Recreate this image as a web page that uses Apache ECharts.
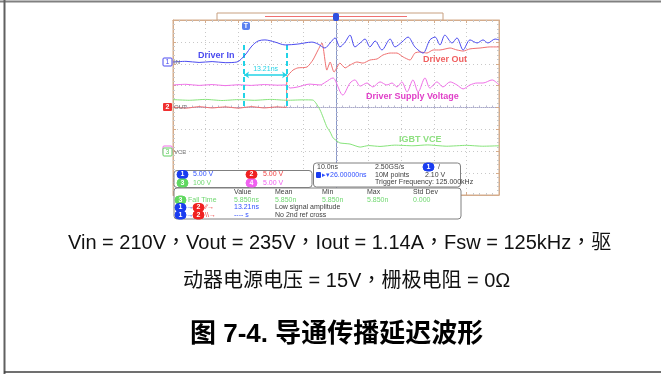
<!DOCTYPE html>
<html>
<head>
<meta charset="utf-8">
<script src="https://cdn.jsdelivr.net/npm/echarts@6/dist/echarts.min.js"></script>
<style>
  html, body { margin: 0; padding: 0; background: #fff; }
  #scope-chart { width: 661px; height: 374px; }
</style>
</head>
<body>
<div id="scope-chart"></div>
<script>
// time in ns relative to screen centre, value in divisions from centre line
const ch1Trace = [
  [-50, 2.08], [-46, 2.11], [-42, 2.06], [-38, 2.10], [-34, 2.05], [-30.4, 2.08],
  [-27.9, 2.40], [-25.8, 2.81], [-23.9, 3.04], [-21.8, 3.09], [-18.7, 2.99], [-15.6, 2.86],
  [-11.7, 2.90], [-7.4, 2.99], [-5.5, 2.90], [-3.4, 2.72], [-1.8, 2.95], [-0.3, 3.18],
  [1.2, 2.77], [2.8, 2.99], [4.3, 3.31], [5.8, 2.77], [7.4, 2.95], [8.9, 3.13],
  [10.4, 2.77], [12.0, 3.04], [14.1, 2.63], [16.6, 3.13], [18.1, 2.77], [20.2, 2.99],
  [22.1, 3.22], [24.2, 2.77], [26.7, 2.49], [28.8, 3.09], [30.4, 3.22], [31.9, 2.86],
  [33.4, 3.31], [35.6, 2.95], [37.1, 3.18], [39.0, 2.63], [41.1, 3.09], [43.3, 2.95],
  [45.1, 3.09], [46.6, 2.95], [48.8, 3.13], [50, 3.09]
]
const ch2Trace = [
  [-50, 0.02], [-46, -0.03], [-42, 0.04], [-38, -0.02], [-34, 0.03], [-30, -0.03],
  [-26, 0.04], [-22, -0.02], [-18, 0.03], [-15.3, 0.0],
  [-15.0, 1.39], [-13.2, 1.71], [-11.7, 1.81], [-8.9, 1.85], [-7.1, 2.17], [-5.5, 2.63],
  [-4.3, 2.95], [-2.8, 1.71], [-1.8, 2.08], [-0.6, 1.62], [1.2, 2.03], [2.8, 1.81],
  [4.3, 1.94], [6.4, 2.08], [8.3, 2.03], [10.4, 2.17], [12.6, 2.22], [14.4, 2.40],
  [16.6, 2.49], [18.7, 2.49], [20.6, 2.31], [22.7, 2.17], [24.2, 2.49], [25.8, 2.54],
  [27.9, 2.49], [29.8, 2.63], [31.9, 2.63], [35.0, 2.72], [37.1, 2.63], [39.0, 2.58],
  [41.1, 2.68], [44.2, 2.72], [47.2, 2.77], [50, 2.77]
]
const ch3Trace = [
  [-50, 0.36], [-45, 0.33], [-40, 0.37], [-35, 0.32], [-30, 0.36], [-25, 0.33],
  [-20, 0.37], [-15, 0.33], [-10, 0.35], [-7.1, 0.34],
  [-4.9, -0.11], [-2.8, -0.89], [-1.8, -1.12], [-0.9, -1.39], [0.3, -1.53], [1.2, -1.62],
  [4.3, -1.67], [7.4, -1.81], [10.0, -1.74], [13.5, -1.78], [18.0, -1.72], [23.6, -1.75],
  [28.0, -1.71], [34.0, -1.77], [40.0, -1.73], [45.0, -1.77], [50, -1.75]
]
const ch4Trace = [
  [-50, 1.03], [-46, 1.06], [-42, 1.01], [-38, 1.05], [-34, 1.00], [-30, 1.04],
  [-26, 1.01], [-22, 1.05], [-18, 1.02], [-15.3, 1.03],
  [-14.1, 0.89], [-11.7, 0.94], [-8.0, 1.07], [-4.9, 1.03], [-3.1, 1.17], [-0.9, 1.35],
  [-0.3, 1.26], [2.1, 0.57], [4.3, 1.12], [5.8, 1.26], [7.4, 0.98], [9.5, 1.12],
  [11.3, 0.94], [13.5, 1.17], [15.6, 1.03], [17.2, 1.12], [18.7, 0.94], [20.2, 1.17],
  [21.8, 0.71], [23.6, 1.26], [25.2, 0.71], [27.3, 1.35], [28.8, 0.89], [31.0, 1.17],
  [32.8, 0.94], [35.0, 1.17], [37.1, 1.03], [39.0, 0.85], [41.1, 1.03], [43.3, 1.12],
  [45.1, 1.12], [47.9, 1.26], [50, 1.03]
]
// cursor positions (ns) and the span they mark (divisions)
const cursorTimes = [-28.2, -15.0]
const cursorSpan = [2.86, 0]
const cursorArrowLevel = 1.49
const cursorText = '13.21ns'

const traceNames = ['Driver In', 'Driver Out', 'IGBT VCE', 'Driver Supply Voltage']
const measHeaders = ['Value', 'Mean', 'Min', 'Max', 'Std Dev']
const measFall = ['5.850ns', '5.850n', '5.850n', '5.850n', '0.000']
const measDelay = ['13.21ns', 'Low signal amplitude']
const measDelay2 = ['---- s', 'No 2nd ref cross']
const chScales = ['5.00 V', '5.00 V', '100 V', '5.00 V']
const timebase = ['10.0ns', '2.50GS/s', '10M points', '2.10 V', 'Trigger Frequency: 125.000kHz', '26.00000ns']
const captionLines = [
  'Vin = 210V，Vout = 235V，Iout = 1.14A，Fsw = 125kHz，驱',
  '动器电源电压 = 15V，栅极电阻 = 0Ω'
]
const figureTitle = '图 7-4. 导通传播延迟波形'

const colors = { c1: '#4b4bf0', c2: '#f07070', c3: '#86e47a', c4: '#f070e8', cursor: '#22d3e6' }
const frameColor = '#d4ac8c'
const captionFont = '"Liberation Sans", Arial, "Noto Sans CJK TC", sans-serif'

const chart = echarts.init(document.getElementById('scope-chart'))

const txt = (x, y, s, fill, size, extra) => ({
  type: 'text', x: x, y: y, z: 22,
  style: Object.assign({ text: s, fill: fill, font: (size || 7) + 'px "Liberation Sans", Arial, sans-serif', textVerticalAlign: 'middle' }, (extra || {}))
})
const badge = (x, y, n, fill, outline) => [
  { type: 'rect', z: 21, shape: { x: x, y: y - 4, width: 11, height: 8, r: 4 }, style: { fill: outline ? '#fff' : fill, stroke: fill, lineWidth: 1 } },
  { type: 'text', z: 22, x: x + 5.5, y: y, style: { text: n, fill: outline ? fill : '#fff', font: 'bold 7px "Liberation Sans", Arial', textAlign: 'center', textVerticalAlign: 'middle' } }
]

const graphics = [
  // page frame
  { type: 'line', shape: { x1: 0, y1: 1.5, x2: 661, y2: 1.5 }, style: { stroke: '#808080', lineWidth: 2 } },
  { type: 'line', shape: { x1: 4.5, y1: 0, x2: 4.5, y2: 374 }, style: { stroke: '#606060', lineWidth: 2 } },
  { type: 'line', shape: { x1: 4, y1: 372, x2: 661, y2: 372 }, style: { stroke: '#404040', lineWidth: 1.5 } },
  // record bar above the screen
  { type: 'rect', shape: { x: 217, y: 13, width: 226, height: 7 }, style: { fill: '#fff', stroke: '#c8a080', lineWidth: 1 } },
  { type: 'line', shape: { x1: 265, y1: 16.5, x2: 407, y2: 16.5 }, style: { stroke: '#f07070', lineWidth: 1 } },
  { type: 'rect', z: 10, shape: { x: 333, y: 13, width: 6, height: 8, r: 2 }, style: { fill: '#3050e0' } },
  // trigger marker
  { type: 'rect', z: 10, shape: { x: 242, y: 22, width: 8, height: 8, r: 2 }, style: { fill: '#5a80f0' } },
  txt(246, 26, 'T', '#fff', 7, { textAlign: 'center', font: 'bold 7px "Liberation Sans"' }),
  // channel ground markers
  { type: 'rect', z: 10, shape: { x: 163, y: 58, width: 9, height: 8, r: 1 }, style: { fill: '#fff', stroke: '#4b4bf0' } },
  txt(167.5, 62, '1', '#4b4bf0', 7, { textAlign: 'center' }),
  txt(174, 62, 'IN', '#707070', 6),
  { type: 'rect', z: 10, shape: { x: 163, y: 103, width: 9, height: 8, r: 1 }, style: { fill: '#f03030' } },
  txt(167.5, 107, '2', '#fff', 7, { textAlign: 'center', font: 'bold 7px "Liberation Sans"' }),
  txt(174, 107, 'OUT', '#707070', 6),
  { type: 'rect', z: 10, shape: { x: 163, y: 146, width: 9, height: 8, r: 1 }, style: { fill: '#fff', stroke: '#f070e8' } },
  { type: 'rect', z: 11, shape: { x: 163, y: 148, width: 9, height: 8, r: 1 }, style: { fill: '#fff', stroke: '#60d060' } },
  txt(167.5, 152, '3', '#60d060', 7, { textAlign: 'center' }),
  txt(174, 152, 'VCE', '#707070', 6),
  // trace labels
  txt(198, 56, traceNames[0], colors.c1, 9, { font: 'bold 9px "Liberation Sans", Arial' }),
  txt(423, 60, traceNames[1], '#f06060', 9, { font: 'bold 9px "Liberation Sans", Arial' }),
  txt(366, 97, traceNames[3], '#e040c8', 9, { font: 'bold 9px "Liberation Sans", Arial' }),
  txt(399, 140, traceNames[2], '#8ee080', 9, { font: 'bold 9px "Liberation Sans", Arial' }),
  // channel scale panel
  { type: 'rect', z: 19, shape: { x: 174, y: 170.5, width: 138, height: 17, r: 3 }, style: { fill: '#fff', stroke: '#808080' } },
  ...badge(177, 174.5, '1', '#1a3cf0'), txt(193, 174.5, chScales[0], '#3050ff'),
  ...badge(246, 174.5, '2', '#f02020'), txt(263, 174.5, chScales[1], '#f04040'),
  ...badge(177, 183, '3', '#60d860'), txt(193, 183, chScales[2], '#70d870'),
  ...badge(246, 183, '4', '#f060f0'), txt(263, 183, chScales[3], '#f060f0'),
  // timebase panel
  { type: 'rect', z: 19, shape: { x: 313.5, y: 163, width: 147, height: 24, r: 3 }, style: { fill: '#fff', stroke: '#808080' } },
  txt(317, 167, timebase[0], '#404040'), txt(375, 167, timebase[1], '#404040'),
  ...badge(423, 167, '1', '#1a3cf0'), txt(438, 167, '/', '#404040'),
  { type: 'rect', z: 21, shape: { x: 316, y: 172, width: 5, height: 6, r: 1 }, style: { fill: '#1a3cf0' } },
  txt(322, 175, '\u25b8\u25be' + timebase[5], '#3050ff'),
  txt(375, 175, timebase[2], '#404040'), txt(425, 175, timebase[3], '#404040'),
  txt(375, 182.5, timebase[4], '#404040'),
  // measurement panel
  { type: 'rect', z: 19, shape: { x: 174, y: 188, width: 287, height: 31, r: 3 }, style: { fill: '#fff', stroke: '#808080' } },
  ...badge(175, 200, '3', '#60d860'), txt(188, 200, 'Fall Time', '#70d870'),
  ...badge(175, 207.5, '1', '#1a3cf0'), txt(186.5, 207.5, '\u2192', '#1a3cf0'), ...badge(193, 207.5, '2', '#f02020'), txt(205, 207.5, '\u2215\u2215\u2192', '#f04040'),
  ...badge(175, 215, '1', '#1a3cf0'), txt(186.5, 215, '\u2192', '#1a3cf0'), ...badge(193, 215, '2', '#f02020'), txt(205, 215, '\\\\\u2192', '#f04040'),
  txt(234, 215, measDelay2[0], '#3050ff'), txt(275, 215, measDelay2[1], '#404040'),
  txt(234, 207.5, measDelay[0], '#3050ff'), txt(275, 207.5, measDelay[1], '#404040'),
  // caption
  txt(68, 243, captionLines[0], '#111', 20, { font: '20px ' + captionFont }),
  txt(183, 281, captionLines[1], '#111', 20, { font: '20px ' + captionFont }),
  txt(190, 335, figureTitle, '#000', 26, { font: 'bold 26px "Liberation Sans", Arial, "Noto Sans CJK SC", sans-serif' })
]
const measX = [234, 275, 322, 367, 413]
measHeaders.forEach((h, i) => graphics.push(txt(measX[i], 192, h, '#404040')))
measFall.forEach((v, i) => graphics.push(txt(measX[i], 200, v, '#70d870')))

const axisHidden = { axisLabel: { show: false }, splitLine: { show: false } }
const edgeAxis = (extra) => Object.assign({
  type: 'value', axisLine: { onZero: false, lineStyle: { color: frameColor } },
  axisTick: { show: true, inside: true, length: 3, lineStyle: { color: frameColor } },
  minorTick: { show: true, splitNumber: 5, length: 2, lineStyle: { color: '#c8c8c8' } }
}, axisHidden, extra)

const option = {
  animation: false,
  grid: { left: 173, top: 20, width: 326, height: 175, show: true, borderColor: frameColor, borderWidth: 1, backgroundColor: '#fff' },
  xAxis: [
    {
      type: 'value', min: -50, max: 50, interval: 10,
      axisLine: { onZero: true, lineStyle: { color: '#a8a8c8', type: 'dotted' } },
      axisTick: { show: true, inside: true, length: 2, lineStyle: { color: '#a8a8c8' } },
      minorTick: { show: true, splitNumber: 5, length: 2, lineStyle: { color: '#b8b8d0' } },
      axisLabel: { show: false },
      splitLine: { show: true, lineStyle: { color: '#c8c8c8', type: [1, 3] } }
    },
    edgeAxis({ min: -50, max: 50, interval: 10, position: 'bottom' }),
    edgeAxis({ min: -50, max: 50, interval: 10, position: 'top' })
  ],
  yAxis: [
    {
      type: 'value', min: -4, max: 4, interval: 1,
      axisLine: { onZero: true, lineStyle: { color: '#8898c8', width: 1 } },
      axisTick: { show: true, inside: true, length: 2, lineStyle: { color: '#a8a8c8' } },
      minorTick: { show: true, splitNumber: 5, length: 2, lineStyle: { color: '#b8b8d0' } },
      axisLabel: { show: false },
      splitLine: { show: true, lineStyle: { color: '#c8c8c8', type: [1, 3] } }
    },
    edgeAxis({ min: -4, max: 4, interval: 1, position: 'left' }),
    edgeAxis({ min: -4, max: 4, interval: 1, position: 'right' })
  ],
  series: [
    { name: traceNames[2], type: 'line', data: ch3Trace, showSymbol: false, smooth: 0.2, lineStyle: { color: colors.c3, width: 1 }, z: 3 },
    { name: traceNames[3], type: 'line', data: ch4Trace, showSymbol: false, smooth: 0.3, lineStyle: { color: colors.c4, width: 1 }, z: 3 },
    { name: traceNames[1], type: 'line', data: ch2Trace, showSymbol: false, smooth: 0.2, lineStyle: { color: colors.c2, width: 1 }, z: 4 },
    {
      name: traceNames[0], type: 'line', data: ch1Trace, showSymbol: false, smooth: 0.3, lineStyle: { color: colors.c1, width: 1 }, z: 5,
      markLine: {
        silent: true, symbol: 'none', animation: false,
        lineStyle: { color: colors.cursor, width: 2, type: [5, 3] },
        label: { show: false },
        data: [
          [{ coord: [cursorTimes[0], cursorSpan[0]] }, { coord: [cursorTimes[0], cursorSpan[1]] }],
          [{ coord: [cursorTimes[1], cursorSpan[0]] }, { coord: [cursorTimes[1], cursorSpan[1]] }],
          [
            { coord: [cursorTimes[0], cursorArrowLevel], symbol: 'arrow', symbolSize: 5, lineStyle: { type: 'solid', width: 1.5 } },
            { coord: [cursorTimes[1], cursorArrowLevel], symbol: 'arrow', symbolSize: 5, label: { show: true, position: 'middle', formatter: cursorText, color: colors.cursor, fontSize: 7, distance: 2 } }
          ]
        ]
      }
    }
  ],
  graphic: graphics
}
chart.setOption(option)
</script>
</body>
</html>
